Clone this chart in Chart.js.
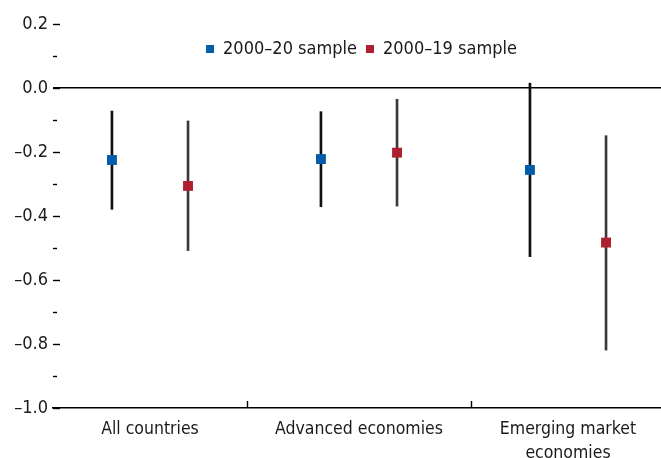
<!DOCTYPE html>
<html>
<head>
<meta charset="utf-8">
<script src="https://cdn.jsdelivr.net/npm/chart.js@4.4.1/dist/chart.umd.min.js"></script>
<style>
  html, body { margin: 0; padding: 0; background: #fff; }
  #wrap { width: 661px; height: 458px; position: relative; }
</style>
</head>
<body>
<div id="wrap"><canvas id="myChart"></canvas></div>
<script>
// categories and series
let categories = ['All countries', 'Advanced economies', ['Emerging market', 'economies']];
let seriesNames = ['2000\u201320 sample', '2000\u201319 sample'];
let est2020 = [-0.225, -0.222, -0.256];
let low2020 = [-0.379, -0.371, -0.527];
let high2020 = [-0.072, -0.074, 0.015];
let est2019 = [-0.306, -0.202, -0.483];
let low2019 = [-0.508, -0.369, -0.819];
let high2019 = [-0.103, -0.035, -0.149];
let yTicks = [-1.0, -0.8, -0.6, -0.4, -0.2, 0.0, 0.2];
let groupBreaks = [0.964, 2.036];

let blue = '#005DAA';
let red = '#AE1F2F';
let shift = 0.182;

Chart.defaults.font.family = '"Liberation Sans Narrow", "Arial Narrow", "DejaVu Sans Condensed", sans-serif';
Chart.defaults.font.size = 17.5;
Chart.defaults.color = '#1a1a1a';

function points(vals, side) {
  return vals.map((v, i) => ({ x: i + 0.5 + side * shift, y: v }));
}
function ranges(lo, hi, side) {
  return lo.map((v, i) => ({ x: i + 0.5 + side * shift, y: [v, hi[i]] }));
}
function fmt(v) {
  let r = Math.round(v * 10) / 10 + 0;
  return r.toFixed(1).replace('-', '\u2013');
}

// legend sits inside the plot, short tick marks inside the plot, group separators
let tickMarks = {
  id: 'tickMarks',
  afterInit(chart) {
    let lg = chart.legend;
    let fit = lg.fit.bind(lg);
    lg.fit = function () { fit(); this.realHeight = this.height; this.height = 0; };
  },
  afterLayout(chart) {
    let lg = chart.legend;
    lg.top = 31;
    lg.bottom = 31 + (lg.realHeight || 40);
    lg.height = lg.bottom - lg.top;
    lg.left = chart.chartArea.left + 9;
    lg.right = chart.chartArea.right;
    lg.width = lg.right - lg.left;
  },
  afterDraw(chart) {
    let ctx = chart.ctx;
    let x = chart.scales.x;
    let y = chart.scales.y;
    let left = chart.chartArea.left;
    ctx.save();
    ctx.strokeStyle = '#000';
    ctx.lineWidth = 1.4;
    y.ticks.forEach(t => {
      let py = Math.round(y.getPixelForValue(t.value)) + 0.5;
      let major = yTicks.some(v => Math.abs(v - t.value) < 1e-6);
      ctx.beginPath();
      ctx.moveTo(left, py);
      ctx.lineTo(left + (major ? 7 : 4), py);
      ctx.stroke();
    });
    let bottom = chart.chartArea.bottom;
    groupBreaks.forEach(b => {
      let px = Math.round(x.getPixelForValue(b)) + 0.5;
      ctx.beginPath();
      ctx.moveTo(px, bottom);
      ctx.lineTo(px, bottom - 7);
      ctx.stroke();
    });
    ctx.restore();
  }
};

let ctx = document.getElementById('myChart').getContext('2d');
let myChart = new Chart(ctx, {
  type: 'bar',
  data: {
    datasets: [{
      type: 'scatter',
      label: seriesNames[0],
      data: points(est2020, -1),
      backgroundColor: blue,
      borderColor: blue,
      borderWidth: 0,
      pointStyle: 'rect',
      pointRadius: 7,
      order: 0
    }, {
      type: 'scatter',
      label: seriesNames[1],
      data: points(est2019, 1),
      backgroundColor: red,
      borderColor: red,
      borderWidth: 0,
      pointStyle: 'rect',
      pointRadius: 7,
      order: 0
    }, {
      label: 'range20',
      data: ranges(low2020, high2020, -1),
      backgroundColor: '#111',
      barThickness: 2,
      grouped: false,
      order: 1
    }, {
      label: 'range19',
      data: ranges(low2019, high2019, 1),
      backgroundColor: '#3a3a3a',
      barThickness: 2,
      grouped: false,
      order: 1
    }]
  },
  options: {
    responsive: true,
    maintainAspectRatio: false,
    animation: false,
    layout: { autoPadding: false, padding: { top: 24, right: 0, left: 0, bottom: 0 } },
    plugins: {
      tooltip: { enabled: false },
      legend: {
        position: 'top',
        labels: {
          boxWidth: 8,
          boxHeight: 8,
          padding: 9,
          color: '#1a1a1a',
          font: { size: 18 },
          filter: item => item.datasetIndex < 2
        }
      }
    },
    scales: {
      x: {
        type: 'linear',
        offset: false,
        min: 0.036,
        max: 2.945,
        afterBuildTicks: s => { s.ticks = categories.map((c, i) => ({ value: i + 0.5 })); },
        afterFit: s => { s.height = 50; s.paddingLeft = 0; s.paddingRight = 0; },
        ticks: {
          autoSkip: false,
          maxRotation: 0,
          padding: 1,
          color: '#1a1a1a',
          font: { lineHeight: 1.4 },
          callback: (v, i) => categories[i]
        },
        grid: { display: false, offset: false },
        border: { display: true, color: '#000', width: 1.5 }
      },
      y: {
        min: -1,
        max: 0.2,
        afterFit: s => { s.width = 53; },
        ticks: {
          stepSize: 0.1,
          padding: 5,
          color: '#1a1a1a',
          font: { size: 18 },
          callback: v => yTicks.some(t => Math.abs(t - v) < 1e-6) ? fmt(v) : ''
        },
        grid: {
          drawTicks: false,
          lineWidth: 1.5,
          color: c => (c.tick && Math.abs(c.tick.value) < 1e-6) ? '#000' : 'rgba(0,0,0,0)'
        },
        border: { display: false }
      }
    }
  },
  plugins: [tickMarks]
});
</script>
</body>
</html>
